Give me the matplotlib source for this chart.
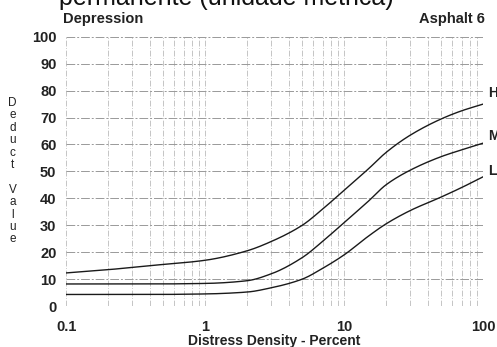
import numpy as np
import matplotlib.pyplot as plt

# Deduct value curves for depression (asphalt), read per severity
density = [0.1, 0.2, 0.4, 1, 2, 3, 5, 7, 10, 15, 20, 30, 50, 70, 100]
high = [12.3, 13.5, 15, 17, 20.5, 24, 30, 36, 43, 51, 57, 63.5, 69.5, 72.5, 75]
medium = [8.2, 8.2, 8.2, 8.4, 9.4, 12, 18, 24, 31, 39, 45, 50.5, 55.5, 58, 60.5]
low = [4.3, 4.3, 4.3, 4.5, 5.2, 6.8, 10, 14, 19, 26, 30.5, 35.5, 40.5, 44, 48]

yticks = list(range(0, 101, 10))
xticks = [0.1, 1, 10, 100]
xticklabels = ['0.1', '1', '10', '100']
severity = [('H', 79), ('M', 63), ('L', 50)]


def monotone_curve(x, y, n=300):
    # Fritsch-Carlson monotone cubic through the points
    x = np.asarray(x, float)
    y = np.asarray(y, float)
    h = np.diff(x)
    d = np.diff(y) / h
    m = np.zeros_like(y)
    m[0], m[-1] = d[0], d[-1]
    for i in range(1, len(y) - 1):
        if d[i - 1] * d[i] <= 0:
            m[i] = 0
        else:
            w1 = 2 * h[i] + h[i - 1]
            w2 = h[i] + 2 * h[i - 1]
            m[i] = (w1 + w2) / (w1 / d[i - 1] + w2 / d[i])
    xs = np.linspace(x[0], x[-1], n)
    k = np.clip(np.searchsorted(x, xs) - 1, 0, len(h) - 1)
    t = (xs - x[k]) / h[k]
    h00 = 2 * t**3 - 3 * t**2 + 1
    h10 = t**3 - 2 * t**2 + t
    h01 = -2 * t**3 + 3 * t**2
    h11 = t**3 - t**2
    ys = h00 * y[k] + h10 * h[k] * m[k] + h01 * y[k + 1] + h11 * h[k] * m[k + 1]
    return xs, ys


plt.rcParams['font.family'] = ['Liberation Sans', 'DejaVu Sans']

fig = plt.figure(figsize=(4.97, 3.47), dpi=100)
ax = fig.add_axes([0.133, 0.118, 0.839, 0.776])

for ys in (high, medium, low):
    lx, yy = monotone_curve(np.log10(density), ys)
    ax.plot(10 ** lx, yy, color='#1a1a1a', lw=1.0)

ax.set_xscale('log')
ax.set_xlim(0.1, 100)
ax.set_ylim(0, 100)

minor = [m * d for d in (0.1, 1, 10) for m in range(1, 10)] + [100]
for v in minor:
    ax.axvline(v, color='#bbbbbb', lw=0.6, ls=(0, (7, 2, 1, 2)), zorder=0)
for v in yticks:
    ax.axhline(v, color='#999999', lw=0.7, ls=(0, (9, 2, 2, 2)), zorder=0)

for s in ax.spines.values():
    s.set_visible(False)
ax.set_xticks(xticks)
ax.set_xticklabels(xticklabels)
ax.set_xticks([], minor=True)
ax.set_yticks(yticks)
ax.tick_params(length=0, labelsize=10.5, colors='#222222', pad=7)
ax.tick_params(axis='x', pad=10)
for t in ax.get_xticklabels() + ax.get_yticklabels():
    t.set_fontweight('semibold')

ax.set_xlabel('Distress Density - Percent', fontsize=10, fontweight='bold',
              color='#222222', labelpad=0)

# vertical y-axis title, one letter per line
ylab = 'Deduct Value'
y0 = 1 - 103 / 347
step = 12.4 / 347
for i, ch in enumerate(ylab):
    fig.text(0.025, y0 - i * step, ch, ha='center', va='center',
             fontsize=8.5, color='#222222')

fig.text(0.127, 0.935, 'Depression', fontsize=10.5, fontweight='bold',
         color='#222222')
fig.text(0.975, 0.935, 'Asphalt 6', fontsize=10.5, fontweight='bold',
         color='#222222', ha='right')
fig.text(0.455, 0.972, 'permanente (unidade métrica)', fontsize=18,
         ha='center', va='bottom', color='#111111')

for lab, yv in severity:
    fig.text(0.982, 0.118 + 0.776 * yv / 100, lab, fontsize=10,
             fontweight='bold', va='center', color='#222222')

fig.savefig('out.png', dpi=100)
